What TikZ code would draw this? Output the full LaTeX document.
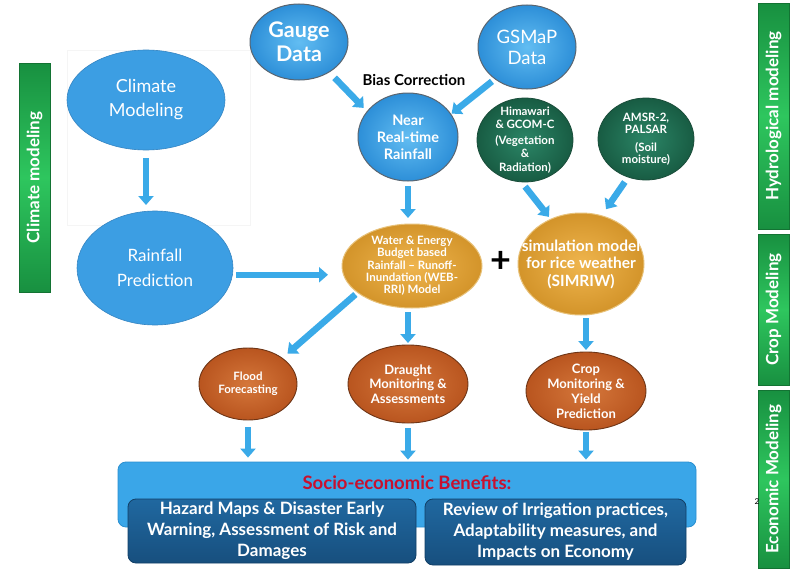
\documentclass[tikz,border=0pt]{standalone}
\usepackage{fontspec}
\setmainfont{Lato}
\usetikzlibrary{shapes.geometric,arrows.meta,calc}
\definecolor{skyflat}{HTML}{3C9EE3}
\definecolor{skyedge}{HTML}{3585C2}
\definecolor{skyin}{HTML}{62BDF2}
\definecolor{skyout}{HTML}{2D8FD8}
\definecolor{ballrim}{HTML}{5A6570}
\definecolor{grnin}{HTML}{2B8566}
\definecolor{grnout}{HTML}{185C43}
\definecolor{grnrim}{HTML}{1A4D3A}
\definecolor{goldin}{HTML}{EFB54E}
\definecolor{goldout}{HTML}{D3942A}
\definecolor{goldrim}{HTML}{E8C27A}
\definecolor{orgin}{HTML}{D5773B}
\definecolor{orgout}{HTML}{B9551F}
\definecolor{orgrim}{HTML}{6E3516}
\definecolor{arrowblue}{HTML}{3AAAE8}
\definecolor{benblue}{HTML}{3AA6E8}
\definecolor{benrim}{HTML}{2A8FD0}
\definecolor{navytop}{HTML}{2068A0}
\definecolor{navybot}{HTML}{174F7E}
\definecolor{navyrim}{HTML}{123F66}
\definecolor{barlt}{HTML}{2EC65E}
\definecolor{bardk}{HTML}{189040}
\definecolor{bencolor}{HTML}{C8102E}
\newcommand\myfs[2]{\fontsize{#1}{#2}\selectfont}
\begin{document}
\begin{tikzpicture}[x=1pt,y=-1pt,
  ell/.style={ellipse, inner sep=-20pt, outer sep=0pt, align=center, text=white},
  flatball/.style={ell, fill=skyflat, draw=skyedge, line width=0.6pt},
  skyball/.style={ell, inner color=skyin, outer color=skyout, draw=ballrim, line width=1pt},
  grnball/.style={ell, inner color=grnin, outer color=grnout, draw=grnrim, line width=0.8pt},
  goldball/.style={ell, inner color=goldin, outer color=goldout, draw=goldrim, line width=1pt},
  orgball/.style={ell, inner color=orgin, outer color=orgout, draw=orgrim, line width=0.9pt},
  barbox/.style={rectangle, rotate=90, inner sep=0pt, outer sep=0pt, top color=bardk, bottom color=bardk, middle color=barlt, draw=bardk!80!black, line width=0.4pt, text=white, font=\bfseries\myfs{17}{20}},
  navybox/.style={rectangle, rounded corners=8pt, inner sep=0pt, top color=navytop, bottom color=navybot, draw=navyrim, line width=0.8pt, text=white, align=center, font=\bfseries\myfs{17}{21}},
  barrow/.style={draw=arrowblue, line width=6.5pt, -{Triangle[width=15pt,length=9pt]}}
]
\useasboundingbox (0,0) rectangle (798,570);
\fill[white] (0,0) rectangle (798,570);

% faint frame behind climate modeling
\draw[black!4, line width=0.6pt] (67,50) rectangle (250,225);

% side bars
\node[barbox, minimum width=229pt, minimum height=31pt] (climbar) at (34.5,177.5) {Climate modeling};
\node[barbox, minimum width=226pt, minimum height=31pt] (hydbar) at (773.5,116) {Hydrological modeling};
\node[barbox, minimum width=151pt, minimum height=31pt] (cropbar) at (773.5,309.5) {Crop Modeling};
\node[barbox, minimum width=178pt, minimum height=31pt] (econbar) at (773.5,479) {Economic Modeling};

% climate side
\node[flatball, minimum width=158pt, minimum height=100pt, font=\myfs{18}{24}] (climate) at (146,100) {Climate\\Modeling};
\node[flatball, minimum width=156pt, minimum height=114pt, font=\myfs{17}{25}] (rain) at (155,268) {Rainfall\\Prediction};

% data sources
\node[skyball, minimum width=98pt, minimum height=76pt, font=\bfseries\myfs{21.5}{24}] (gauge) at (299,42) {Gauge\\Data};
\node[skyball, minimum width=98pt, minimum height=84pt, font=\myfs{18.5}{21}] (gsmap) at (527,47) {GSMaP\\Data};
\node[skyball, minimum width=100pt, minimum height=88pt, font=\bfseries\myfs{14.5}{17}] (near) at (408,137) {Near\\Real-time\\Rainfall};
\node[font=\bfseries\myfs{15}{17}] (bias) at (414,80) {Bias Correction};
\node[grnball, minimum width=96pt, minimum height=84pt, font=\bfseries\myfs{11.5}{13.5}] (him) at (525,140) {Himawari\\\& GCOM-C\\[2pt](Vegetation\\\&\\Radiation)};
\node[grnball, minimum width=96pt, minimum height=82pt, font=\bfseries\myfs{11.5}{12.5}] (amsr) at (646,139) {AMSR-2,\\PALSAR\\[5pt](Soil\\moisture)};

% models
\node[goldball, minimum width=140pt, minimum height=84pt, font=\bfseries\myfs{11.5}{12.3}] (web) at (412,266) {Water \& Energy\\Budget based\\Rainfall -- Runoff-\\Inundation (WEB-\\RRI) Model};
\node[font=\bfseries\myfs{36}{36}] (plus) at (501,262) {+};
\node[goldball, minimum width=126pt, minimum height=102pt, font=\bfseries\myfs{15.5}{17.5}] (sim) at (581,264) {simulation model\\for rice weather\\(SIMRIW)};

% outputs
\node[orgball, minimum width=98pt, minimum height=72pt, font=\bfseries\myfs{11.5}{13}] (flood) at (248,384) {Flood\\Forecasting};
\node[orgball, minimum width=120pt, minimum height=78pt, font=\bfseries\myfs{13}{14.5}] (draught) at (408,384) {Draught\\Monitoring \&\\Assessments};
\node[orgball, minimum width=120pt, minimum height=78pt, font=\bfseries\myfs{13}{15}] (crop) at (586,391) {Crop\\Monitoring \&\\Yield\\Prediction};

% benefits
\node[rectangle, rounded corners=8pt, minimum width=578pt, minimum height=65pt, inner sep=0pt, fill=benblue, draw=benrim, line width=0.8pt] (ben) at (407,494.5) {};
\node[text=bencolor, font=\bfseries\myfs{18.5}{20}] (bentitle) at (407,483) {Socio-economic Benefits:};
\node[navybox, minimum width=288pt, minimum height=64pt] (hazard) at (272,531) {Hazard Maps \& Disaster Early\\Warning, Assessment of Risk and\\Damages};
\node[navybox, minimum width=261pt, minimum height=66pt] (review) at (555.5,532) {Review of Irrigation practices,\\Adaptability measures, and\\Impacts on Economy};

\node[font=\myfs{8}{9}] (pgnum) at (757,502) {2};

% connectors
\draw[barrow, shorten <=8pt, shorten >=6pt] (climate.south) -- (climate.south |- rain.north);
\draw[barrow, shorten <=4pt, shorten >=14pt] (rain.-5) -- (rain.-5 -| web.west);
\draw[barrow, shorten <=8pt, shorten >=5pt] (gauge.-45) -- (near.148);
\draw[barrow, shorten <=4pt, shorten >=1pt] (gsmap.225) -- (near.28);
\draw[barrow, shorten <=5pt, shorten >=6pt] (near.south) -- (near.south |- web.north);
\draw[barrow, shorten <=6pt, shorten >=3pt] (him.-95) -- (sim.124);
\draw[barrow, shorten <=6pt, shorten >=8pt] (amsr.-115) -- (sim.67);
\draw[barrow, shorten <=3pt, shorten >=7pt] (web.206) -- (flood.37);
\draw[barrow, shorten <=4pt, shorten >=2pt] (draught.north |- web.south) -- (draught.north);
\draw[barrow, shorten <=3pt, shorten >=2pt] (crop.north |- sim.south) -- (crop.north);
\draw[barrow, shorten <=7pt, shorten >=4pt] (flood.south) -- (flood.south |- ben.north);
\draw[barrow, shorten <=5pt, shorten >=2pt] (draught.south) -- (draught.south |- ben.north);
\draw[barrow, shorten <=2pt, shorten >=2pt] (crop.south) -- (crop.south |- ben.north);
\end{tikzpicture}
\end{document}
